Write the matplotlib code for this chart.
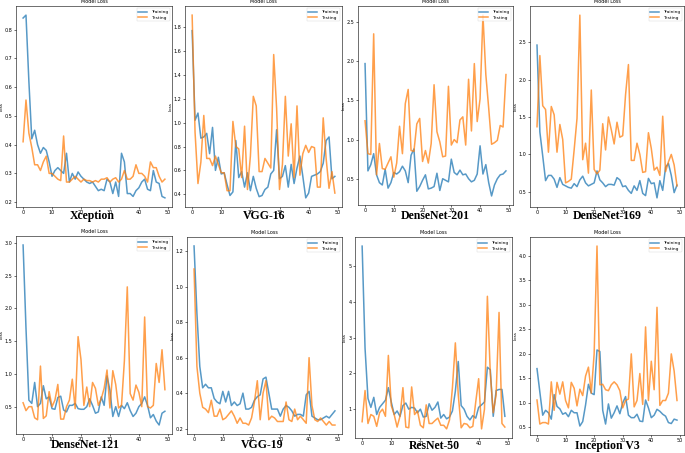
import numpy as np
import matplotlib
matplotlib.use('Agg')
import matplotlib.pyplot as plt

# loss curves, one pair per model
names = ['Xception', 'VGG-16', 'DenseNet-201', 'DenseNet-169',
         'DenseNet-121', 'VGG-19', 'ResNet-50', 'Inception V3']

xception_train = [0.84, 0.85, 0.62, 0.42, 0.45, 0.40, 0.37, 0.39, 0.38, 0.34,
                  0.29, 0.31, 0.32, 0.31, 0.30, 0.37, 0.27, 0.30, 0.28, 0.305,
                  0.29, 0.28, 0.27, 0.265, 0.27, 0.255, 0.24, 0.245, 0.24, 0.28,
                  0.27, 0.23, 0.27, 0.22, 0.37, 0.34, 0.23, 0.23, 0.22, 0.24,
                  0.25, 0.27, 0.28, 0.245, 0.24, 0.31, 0.27, 0.265, 0.22, 0.215]
xception_test = [0.41, 0.555, 0.44, 0.39, 0.33, 0.33, 0.31, 0.34, 0.36, 0.30,
                 0.30, 0.29, 0.28, 0.275, 0.43, 0.27, 0.27, 0.28, 0.29, 0.28,
                 0.27, 0.28, 0.275, 0.275, 0.27, 0.275, 0.27, 0.28, 0.28, 0.285,
                 0.27, 0.28, 0.285, 0.27, 0.28, 0.31, 0.28, 0.28, 0.29, 0.33,
                 0.30, 0.30, 0.29, 0.27, 0.34, 0.32, 0.32, 0.29, 0.27, 0.28]

vgg16_train = [1.77, 1.02, 1.08, 0.87, 0.88, 0.91, 0.74, 0.96, 0.60, 0.71,
               0.57, 0.58, 0.48, 0.39, 0.42, 0.85, 0.54, 0.59, 0.46, 0.58,
               0.43, 0.55, 0.45, 0.38, 0.39, 0.44, 0.46, 0.57, 0.60, 0.94,
               0.53, 0.55, 0.64, 0.46, 0.65, 0.49, 0.62, 0.72, 0.55, 0.37,
               0.41, 0.55, 0.56, 0.57, 0.59, 0.66, 0.85, 0.88, 0.53, 0.55]
vgg16_test = [1.90, 0.92, 0.49, 0.67, 1.06, 0.70, 0.70, 0.64, 0.72, 0.65,
              0.58, 0.58, 0.43, 0.43, 1.01, 0.80, 0.78, 0.54, 0.97, 0.44,
              0.72, 1.22, 1.14, 0.59, 0.59, 0.70, 0.66, 0.62, 1.57, 1.12,
              0.44, 0.65, 1.22, 0.72, 0.99, 0.54, 1.14, 0.56, 0.74, 0.81,
              0.75, 0.80, 0.79, 0.46, 0.46, 1.04, 0.70, 0.45, 0.59, 0.41]

dn201_train = [1.97, 0.60, 0.68, 0.82, 0.55, 0.45, 0.42, 0.62, 0.38, 0.45,
               0.58, 0.56, 0.59, 0.66, 0.60, 0.45, 0.80, 0.88, 0.34, 0.40,
               0.48, 0.55, 0.37, 0.38, 0.40, 0.57, 0.35, 0.50, 0.48, 0.46,
               0.75, 0.58, 0.55, 0.61, 0.55, 0.56, 0.50, 0.46, 0.48, 0.56,
               0.92, 0.56, 0.68, 0.45, 0.28, 0.42, 0.50, 0.55, 0.56, 0.60]
dn201_test = [1.24, 0.82, 0.81, 2.35, 0.55, 0.95, 0.63, 0.62, 0.70, 0.78,
              0.52, 0.70, 1.17, 0.82, 1.46, 1.64, 0.86, 0.85, 1.20, 1.27,
              0.72, 0.86, 0.70, 0.95, 1.70, 1.10, 0.97, 0.78, 0.79, 1.68,
              0.93, 1.00, 0.96, 1.25, 1.29, 0.93, 1.77, 1.11, 1.97, 1.23,
              1.52, 2.59, 1.83, 1.40, 0.94, 0.96, 0.99, 1.18, 1.16, 1.83]

dn169_train = [2.46, 1.30, 0.98, 0.65, 0.72, 0.72, 0.67, 0.56, 0.69, 0.60,
               0.58, 0.56, 0.55, 0.61, 0.57, 0.66, 0.71, 0.62, 0.58, 0.60,
               0.62, 0.78, 0.66, 0.62, 0.57, 0.60, 0.60, 0.59, 0.69, 0.66,
               0.57, 0.58, 0.52, 0.48, 0.58, 0.52, 0.65, 0.48, 0.45, 0.68,
               0.61, 0.62, 0.42, 0.65, 0.52, 0.83, 0.88, 0.72, 0.49, 0.59]
dn169_test = [1.37, 2.32, 1.65, 1.60, 1.03, 1.64, 1.53, 1.03, 1.40, 1.20,
              0.62, 0.64, 0.67, 1.06, 1.48, 2.86, 0.93, 1.15, 0.75, 1.86,
              0.80, 0.74, 0.79, 1.41, 1.06, 1.50, 1.33, 1.14, 1.43, 1.23,
              1.25, 1.80, 2.20, 0.92, 0.92, 1.15, 1.00, 0.76, 0.77, 1.29,
              1.08, 0.79, 0.83, 0.72, 1.51, 0.77, 0.90, 1.00, 0.86, 0.58]

dn121_train = [2.97, 1.70, 0.60, 0.55, 0.87, 0.50, 0.55, 0.82, 0.62, 0.65,
               0.47, 0.46, 0.64, 0.66, 0.45, 0.42, 0.52, 0.52, 0.55, 0.47,
               0.46, 0.46, 0.50, 0.62, 0.52, 0.40, 0.42, 0.65, 0.52, 0.97,
               0.75, 0.35, 0.50, 0.35, 0.52, 0.47, 0.56, 0.44, 0.35, 0.40,
               0.50, 0.55, 0.65, 0.52, 0.33, 0.38, 0.28, 0.22, 0.40, 0.43]
dn121_test = [0.56, 0.44, 0.50, 0.50, 0.33, 0.30, 1.12, 0.32, 0.36, 0.73,
              0.50, 0.60, 0.84, 0.31, 0.31, 0.50, 0.60, 0.92, 0.47, 1.57,
              1.22, 0.52, 0.80, 0.50, 0.87, 0.78, 0.52, 0.62, 0.78, 1.06,
              0.48, 1.05, 0.84, 0.48, 0.52, 1.20, 2.33, 0.70, 0.60, 0.83,
              0.72, 0.50, 1.87, 0.50, 0.48, 0.52, 1.16, 0.87, 1.37, 0.76]

vgg19_train = [1.23, 0.85, 0.55, 0.43, 0.45, 0.43, 0.43, 0.37, 0.35, 0.34,
               0.41, 0.35, 0.41, 0.33, 0.35, 0.33, 0.34, 0.40, 0.31, 0.31,
               0.32, 0.36, 0.38, 0.39, 0.48, 0.49, 0.40, 0.31, 0.31, 0.31,
               0.27, 0.31, 0.33, 0.32, 0.30, 0.27, 0.28, 0.28, 0.27, 0.39,
               0.41, 0.27, 0.26, 0.25, 0.25, 0.26, 0.27, 0.26, 0.28, 0.30]
vgg19_test = [1.10, 0.55, 0.40, 0.32, 0.31, 0.29, 0.36, 0.27, 0.27, 0.31,
              0.25, 0.26, 0.28, 0.30, 0.27, 0.23, 0.26, 0.23, 0.23, 0.22,
              0.26, 0.35, 0.47, 0.25, 0.40, 0.47, 0.25, 0.27, 0.26, 0.24,
              0.24, 0.24, 0.35, 0.25, 0.24, 0.31, 0.25, 0.27, 0.25, 0.23,
              0.60, 0.33, 0.25, 0.24, 0.26, 0.24, 0.22, 0.24, 0.22, 0.22]

resnet_train = [5.55, 2.70, 1.30, 1.05, 1.33, 0.85, 1.05, 1.15, 1.25, 1.60,
                1.20, 0.85, 0.95, 0.80, 1.10, 1.17, 1.00, 1.05, 1.03, 0.90,
                1.00, 0.78, 0.80, 1.15, 0.97, 1.05, 1.20, 0.75, 0.85, 0.73,
                0.78, 0.95, 1.50, 2.33, 1.10, 1.00, 0.80, 0.70, 0.82, 0.75,
                1.05, 1.12, 1.20, 2.17, 2.10, 0.80, 1.52, 1.55, 1.55, 0.80]
resnet_test = [0.65, 1.52, 0.60, 0.85, 0.80, 0.52, 0.90, 1.00, 0.80, 2.50,
               1.10, 0.85, 0.50, 0.80, 1.60, 0.50, 0.48, 1.62, 0.85, 0.95,
               0.55, 0.48, 1.12, 0.60, 0.60, 0.68, 0.75, 0.55, 0.55, 0.45,
               0.70, 1.60, 2.85, 1.40, 0.48, 0.60, 0.58, 0.48, 0.52, 1.20,
               1.85, 0.45, 1.00, 4.15, 2.00, 0.90, 1.40, 3.70, 0.60, 0.50]

incep_train = [1.70, 1.22, 0.75, 0.85, 0.80, 0.67, 1.17, 0.93, 0.88, 0.77,
               0.80, 0.72, 0.85, 0.80, 0.80, 0.53, 0.62, 0.96, 1.38, 1.20,
               1.17, 2.08, 2.05, 0.85, 0.57, 0.98, 0.69, 0.80, 0.94, 0.78,
               1.00, 1.13, 0.75, 0.70, 0.70, 0.77, 0.63, 0.62, 1.06, 0.90,
               0.70, 0.75, 0.87, 0.83, 0.77, 0.73, 0.60, 0.58, 0.67, 0.65]
incep_test = [1.06, 0.57, 0.60, 0.60, 0.57, 1.43, 0.85, 1.42, 1.18, 1.43,
              1.05, 0.90, 1.42, 1.30, 0.94, 1.28, 1.15, 1.55, 1.73, 1.20,
              2.00, 4.20, 1.37, 1.38, 1.27, 1.25, 1.37, 1.43, 1.37, 1.25,
              0.90, 1.05, 1.08, 2.00, 0.92, 1.05, 1.60, 0.97, 2.55, 1.05,
              1.85, 1.27, 2.95, 0.95, 1.05, 1.05, 1.20, 2.00, 1.65, 1.05]

train = [xception_train, vgg16_train, dn201_train, dn169_train,
         dn121_train, vgg19_train, resnet_train, incep_train]
test = [xception_test, vgg16_test, dn201_test, dn169_test,
        dn121_test, vgg19_test, resnet_test, incep_test]

W, H = 685, 453
fig = plt.figure(figsize=(W / 100, H / 100), dpi=100)

# axes boxes in pixels: left, right, top, bottom
boxes = [(16, 172, 6, 207), (185, 342, 6, 207), (358, 513, 6, 205), (530, 684, 6, 207),
         (16, 172, 236, 434), (187, 342, 237, 434), (355, 512, 237, 438), (530, 684, 237, 435)]
label_pos = [(92, 216), (264, 216), (435, 216), (607, 216),
             (85, 445), (262, 445), (434, 446), (607, 446)]

for i in range(8):
    l, r, t, b = boxes[i]
    ax = fig.add_axes([l / W, 1 - b / H, (r - l) / W, (b - t) / H])
    ax.plot(np.arange(len(train[i])), train[i], color='tab:blue', lw=1.1, alpha=0.75, label='Training')
    ax.plot(np.arange(len(test[i])), test[i], color='tab:orange', lw=1.1, alpha=0.75, label='Testing')
    ax.set_title('Model Loss', fontsize=3.5, pad=2)
    ax.set_ylabel('Loss', fontsize=3, labelpad=1)
    ax.set_xticks([0, 10, 20, 30, 40, 50])
    ax.tick_params(labelsize=3.5, length=1.5, width=0.4, pad=1)
    for s in ax.spines.values():
        s.set_linewidth(0.4)
    ax.legend(loc='upper right', fontsize=3.2, frameon=True, handlelength=2,
              borderpad=0.4, labelspacing=0.3).get_frame().set_linewidth(0.3)
    fig.text(label_pos[i][0] / W, 1 - label_pos[i][1] / H, names[i],
             family='Liberation Serif', fontweight='bold', fontsize=8.5,
             ha='center', va='center')

fig.savefig('out.png', dpi=100)
